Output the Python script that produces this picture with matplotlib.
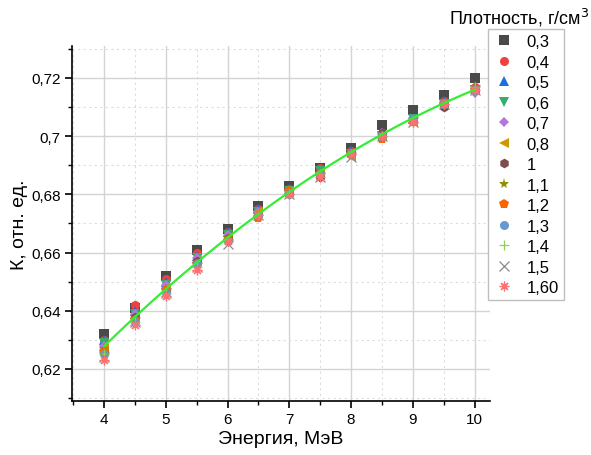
import numpy as np
import matplotlib
matplotlib.use("Agg")
import matplotlib.pyplot as plt
from matplotlib.ticker import MultipleLocator, FuncFormatter

plt.rcParams['font.family'] = ['Liberation Sans', 'DejaVu Sans']

energy = [4, 4.5, 5, 5.5, 6, 6.5, 7, 7.5, 8, 8.5, 9, 9.5, 10]

density_labels = ["0,3", "0,4", "0,5", "0,6", "0,7", "0,8", "1",
                  "1,1", "1,2", "1,3", "1,4", "1,5", "1,60"]

k_03 = [0.632, 0.641, 0.652, 0.661, 0.668, 0.676, 0.683, 0.689, 0.696, 0.704, 0.709, 0.714, 0.720]
k_04 = [0.630, 0.642, 0.651, 0.660, 0.667, 0.675, 0.682, 0.689, 0.695, 0.701, 0.706, 0.712, 0.717]
k_05 = [0.630, 0.640, 0.650, 0.659, 0.667, 0.675, 0.682, 0.688, 0.695, 0.701, 0.706, 0.712, 0.717]
k_06 = [0.629, 0.639, 0.649, 0.658, 0.666, 0.674, 0.681, 0.688, 0.694, 0.700, 0.706, 0.711, 0.716]
k_07 = [0.628, 0.639, 0.649, 0.658, 0.666, 0.674, 0.681, 0.687, 0.694, 0.701, 0.706, 0.711, 0.715]
k_08 = [0.627, 0.638, 0.648, 0.657, 0.665, 0.674, 0.681, 0.687, 0.693, 0.700, 0.705, 0.711, 0.716]
k_10 = [0.626, 0.638, 0.647, 0.657, 0.665, 0.673, 0.680, 0.686, 0.694, 0.701, 0.706, 0.710, 0.716]
k_11 = [0.627, 0.637, 0.647, 0.656, 0.665, 0.673, 0.681, 0.687, 0.694, 0.700, 0.705, 0.711, 0.717]
k_12 = [0.626, 0.637, 0.647, 0.656, 0.664, 0.672, 0.681, 0.687, 0.694, 0.699, 0.705, 0.711, 0.716]
k_13 = [0.625, 0.636, 0.646, 0.656, 0.664, 0.673, 0.680, 0.687, 0.694, 0.700, 0.706, 0.711, 0.716]
k_14 = [0.625, 0.636, 0.646, 0.655, 0.664, 0.673, 0.680, 0.687, 0.694, 0.700, 0.705, 0.711, 0.717]
k_15 = [0.624, 0.636, 0.646, 0.655, 0.663, 0.673, 0.680, 0.686, 0.693, 0.700, 0.705, 0.711, 0.716]
k_16 = [0.623, 0.635, 0.645, 0.654, 0.664, 0.673, 0.680, 0.686, 0.694, 0.700, 0.705, 0.711, 0.716]

series = [k_03, k_04, k_05, k_06, k_07, k_08, k_10, k_11, k_12, k_13, k_14, k_15, k_16]

styles = [
    dict(marker='s', color='#4a4a4a', ms=6.5),
    dict(marker='o', color='#f14040', ms=6.5),
    dict(marker='^', color='#1a6fdf', ms=7),
    dict(marker='v', color='#37ad6b', ms=7),
    dict(marker='D', color='#b177de', ms=5.5),
    dict(marker='<', color='#cc9900', ms=7),
    dict(marker='h', color='#7d4e4e', ms=7),
    dict(marker='*', color='#8e8e00', ms=8),
    dict(marker='p', color='#fb6501', ms=7.5),
    dict(marker='o', color='#6699cc', ms=6.5),
    dict(marker='+', color='#8fd14f', ms=7),
    dict(marker='x', color='#8a8a8a', ms=6.5),
    dict(marker=(8, 2, 0), color='#ff7070', ms=7),
]

fig = plt.figure(figsize=(5.91, 4.56), dpi=100)
ax = fig.add_axes([0.1218, 0.1184, 0.7072, 0.7786])

for vals, lab, st in zip(series, density_labels, styles):
    line_marker = st['marker'] in ('+', 'x', (8, 2, 0))
    ax.plot(energy, vals, linestyle='none', marker=st['marker'], color=st['color'],
            markersize=st['ms'], markeredgewidth=0.9 if line_marker else 0,
            label=lab, zorder=3)

# quadratic fit through the mean of all densities
mean_k = np.mean(np.array(series), axis=0)
coef = np.polyfit(energy, mean_k, 2)
xf = np.linspace(energy[0], energy[-1], 200)
ax.plot(xf, np.polyval(coef, xf), color='#33ee33', lw=1.6, zorder=4)

ax.set_xlim(3.48, 10.25)
ax.set_ylim(0.609, 0.731)

ax.xaxis.set_major_locator(MultipleLocator(1))
ax.xaxis.set_minor_locator(MultipleLocator(0.5))
ax.yaxis.set_major_locator(MultipleLocator(0.02))
ax.yaxis.set_minor_locator(MultipleLocator(0.01))

fmt = FuncFormatter(lambda v, p: f"{round(v, 4):g}".replace('.', ','))
ax.xaxis.set_major_formatter(fmt)
ax.yaxis.set_major_formatter(fmt)

ax.grid(which='major', color='#d4d4d4', lw=1.0, ls='-', zorder=0)
ax.grid(which='minor', color='#dcdcdc', lw=0.8, ls=(0, (2, 3)), zorder=0)
ax.set_axisbelow(True)

for s in ('top', 'right'):
    ax.spines[s].set_visible(False)
for s in ('left', 'bottom'):
    ax.spines[s].set_linewidth(1.2)

ax.tick_params(which='major', direction='out', length=5, width=1.2, labelsize=11, pad=3)
ax.tick_params(which='minor', direction='out', length=3, width=1.0)

ax.set_xlabel("Энергия, МэВ", fontsize=14, labelpad=3)
ax.set_ylabel("К, отн. ед.", fontsize=14, labelpad=2)

leg = fig.legend(loc='upper left', bbox_to_anchor=(0.826, 0.934), frameon=True,
                 fontsize=12, handletextpad=0.7, labelspacing=0.33,
                 borderpad=0.3, borderaxespad=0.0, handlelength=1.3,
                 fancybox=False, edgecolor='#b0b0b0')
leg.get_frame().set_linewidth(1.0)
fig.text(0.998, 0.985, "Плотность, г/см$^3$", ha='right', va='top', fontsize=13)

fig.savefig("out.png", dpi=100)
